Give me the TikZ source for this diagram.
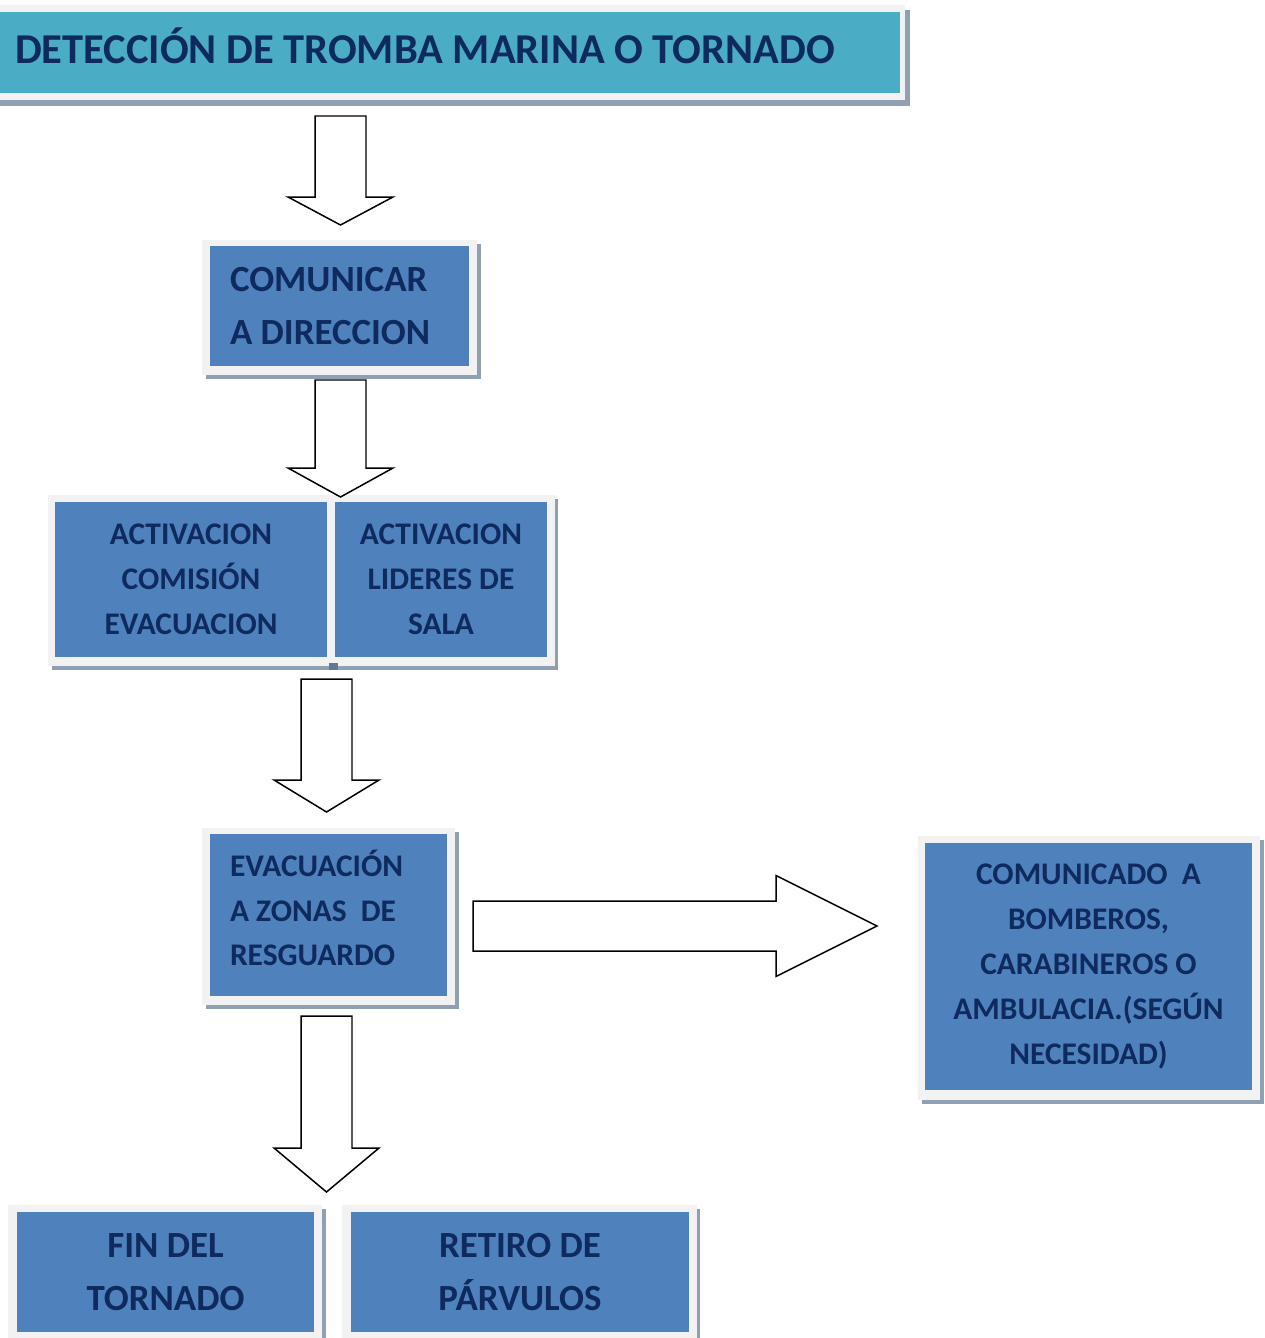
\documentclass[tikz,border=0pt]{standalone}
\usepackage{fontspec}
\setmainfont{Carlito}
\usetikzlibrary{calc}
\definecolor{boxblue}{HTML}{4F81BD}
\definecolor{titleteal}{HTML}{4BACC6}
\definecolor{navy}{HTML}{0E2A5E}
\definecolor{framegray}{HTML}{F2F2F2}
\definecolor{shadowgray}{HTML}{8EA0B2}
\definecolor{divgray}{HTML}{5E7896}
\tikzset{
  frame/.style={fill=framegray},
  shadow/.style={fill=shadowgray},
  box/.style={fill=boxblue, inner sep=0pt, text=navy, align=center},
  bigtext/.style={font=\fontsize{21}{30}\selectfont\bfseries},
  midtext/.style={font=\fontsize{17.9}{25.5}\selectfont\bfseries},
  downarrow/.style={draw=black, line width=0.85pt, fill=white,
    to path={let \p1=(\tikztostart), \p2=(\tikztotarget) in
      (\x1-0.51cm,\y1) -- (\x1+0.51cm,\y1) -- (\x1+0.51cm,\y2+#1) -- (\x1+1.05cm,\y2+#1)
      -- (\x2,\y2) -- (\x1-1.05cm,\y2+#1) -- (\x1-0.51cm,\y2+#1) -- cycle}},
  rightarrow/.style={draw=black, line width=0.85pt, fill=white,
    to path={let \p1=(\tikztostart), \p2=(\tikztotarget) in
      (\x1,\y1+0.5cm) -- (\x2-#1,\y1+0.5cm) -- (\x2-#1,\y1+1.01cm) -- (\x2,\y2)
      -- (\x2-#1,\y1-1.01cm) -- (\x2-#1,\y1-0.5cm) -- (\x1,\y1-0.5cm) -- cycle}},
}
\begin{document}
\begin{tikzpicture}[x=0.02cm, y=-0.02cm]
\useasboundingbox (0,0) rectangle (1264,1338);
\clip (0,0) rectangle (1264,1338);

% frames and shadows
\fill[shadow] (0,10) rectangle (910,106);
\fill[frame] (0,5) rectangle (905,100);

\fill[shadow] (206,244) rectangle (481,379);
\fill[frame] (202,240) rectangle (477,375);

\fill[shadow] (52,499) rectangle (558,670);
\fill[frame] (48,495) rectangle (555,666);
\fill[divgray] (329,663) rectangle (338,670);

\fill[shadow] (206,832) rectangle (459,1009);
\fill[frame] (202,828) rectangle (455,1005);

\fill[shadow] (922,840) rectangle (1264,1104);
\fill[frame] (918,836) rectangle (1260,1100);

\fill[shadow] (12,1209) rectangle (326,1338);
\fill[frame] (8,1205) rectangle (322,1338);

\fill[shadow] (346,1209) rectangle (700,1338);
\fill[frame] (342,1205) rectangle (697,1338);

% boxes
\node[box, fill=titleteal, minimum width=18cm, minimum height=1.62cm, inner xsep=0.3cm,
      text width=17.4cm, align=flush left, text height=15.3pt, text depth=2.3pt,
      font=\fontsize{24.2}{29}\selectfont\bfseries]
      (title) at (450,52.5) {DETECCIÓN DE TROMBA MARINA O TORNADO};

\node[box, bigtext, minimum width=5.18cm, minimum height=2.4cm, inner xsep=0.4cm,
      text width=4.38cm, align=flush left] (com) at (339.5,306) {COMUNICAR\\A DIRECCION};

\node[box, midtext, minimum width=5.44cm, minimum height=3.1cm] (act1) at (191,579.5)
      {ACTIVACION\\COMISIÓN\\EVACUACION};
\node[box, midtext, minimum width=4.24cm, minimum height=3.1cm] (act2) at (441,579.5)
      {ACTIVACION\\LIDERES DE\\SALA};

\node[box, minimum width=4.74cm, minimum height=3.24cm] (evac) at (328.5,915) {};
\node[text=navy, midtext, inner sep=0pt, text width=3.94cm, align=flush left]
      (evact) at (328.5,908) {EVACUACIÓN\\A ZONAS~ DE\\RESGUARDO};

\node[box, midtext, minimum width=6.54cm, minimum height=4.94cm] (comu) at (1088.5,966.5)
      {COMUNICADO~ A\\BOMBEROS,\\CARABINEROS O\\AMBULACIA.(SEGÚN\\NECESIDAD)};

\node[box, bigtext, minimum width=5.94cm, minimum height=2.4cm] (fin) at (165.5,1272)
      {FIN DEL\\TORNADO};
\node[box, bigtext, minimum width=6.76cm, minimum height=2.4cm] (ret) at (520,1272)
      {RETIRO DE\\PÁRVULOS};

% arrow end points
\coordinate (a1s) at (340.5,116);
\coordinate (a1e) at (340.5,225);
\coordinate (a2s) at (340.5,380);
\coordinate (a2e) at (340.5,497);
\coordinate (a3s) at (326.5,679);
\coordinate (a3e) at (326.5,812);
\coordinate (a4s) at (326.5,1016);
\coordinate (a4e) at (326.5,1192);
\coordinate (ars) at (473,926);
\coordinate (are) at (877,926);

\draw[downarrow=0.56cm] (a1s) to (a1e);
\draw[downarrow=0.58cm] (a2s) to (a2e);
\draw[downarrow=0.64cm] (a3s) to (a3e);
\draw[downarrow=0.88cm] (a4s) to (a4e);
\draw[rightarrow=2.02cm] (ars) to (are);
\end{tikzpicture}
\end{document}
